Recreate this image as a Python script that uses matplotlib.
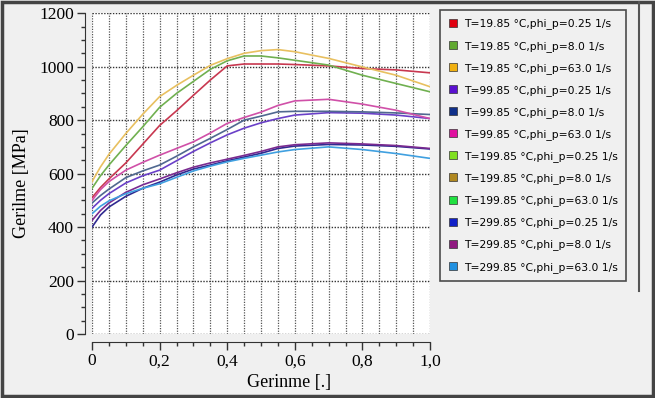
import numpy as np
import matplotlib.pyplot as plt
from matplotlib.lines import Line2D
from matplotlib.patches import Rectangle
from matplotlib.ticker import MultipleLocator

# strain points (Gerinme)
x = [0, 0.025, 0.05, 0.1, 0.15, 0.2, 0.25, 0.3, 0.35, 0.4, 0.45, 0.5, 0.55, 0.6, 0.7, 0.8, 0.9, 1.0]

# stress curves [MPa]
t19_025 = [510, 548, 580, 640, 710, 780, 835, 893, 950, 1003, 1010, 1010, 1010, 1008, 1003, 993, 988, 977]
t19_8 = [545, 592, 632, 705, 775, 848, 900, 945, 990, 1022, 1040, 1040, 1033, 1024, 1006, 968, 937, 906]
t19_63 = [570, 625, 672, 750, 822, 888, 930, 968, 1005, 1030, 1050, 1060, 1064, 1056, 1031, 999, 968, 925]
t99_025 = [470, 500, 525, 565, 592, 613, 648, 683, 715, 745, 770, 790, 806, 819, 828, 826, 819, 806]
t99_8 = [490, 518, 542, 585, 610, 632, 665, 700, 732, 765, 800, 815, 831, 833, 833, 831, 827, 821]
t99_63 = [500, 540, 570, 613, 642, 669, 694, 719, 752, 788, 810, 830, 855, 872, 878, 860, 837, 806]
t299_025 = [400, 445, 475, 515, 545, 568, 595, 617, 632, 648, 662, 676, 694, 703, 709, 707, 702, 692]
t299_8 = [425, 462, 490, 530, 558, 580, 603, 624, 640, 654, 668, 683, 700, 708, 715, 711, 705, 694]
t299_63 = [450, 478, 498, 525, 545, 562, 586, 610, 628, 644, 657, 669, 681, 690, 700, 690, 675, 657]

legend_labels = [
    'T=19.85 °C,phi_p=0.25 1/s', 'T=19.85 °C,phi_p=8.0 1/s', 'T=19.85 °C,phi_p=63.0 1/s',
    'T=99.85 °C,phi_p=0.25 1/s', 'T=99.85 °C,phi_p=8.0 1/s', 'T=99.85 °C,phi_p=63.0 1/s',
    'T=199.85 °C,phi_p=0.25 1/s', 'T=199.85 °C,phi_p=8.0 1/s', 'T=199.85 °C,phi_p=63.0 1/s',
    'T=299.85 °C,phi_p=0.25 1/s', 'T=299.85 °C,phi_p=8.0 1/s', 'T=299.85 °C,phi_p=63.0 1/s',
]
legend_colors = ['#e00010', '#60a830', '#f0b010', '#5a10d0', '#10308a', '#e010a0',
                 '#80e020', '#b08820', '#20e040', '#1020c8', '#901880', '#2090e0']

curves = [t19_025, t19_8, t19_63, t99_025, t99_8, t99_63, t299_025, t299_8, t299_63]
curve_colors = ['#c83850', '#70b050', '#e8c060', '#6a40c8', '#506890', '#d050a8',
                '#302a90', '#7a2a90', '#40a0e0']

xtick_vals = [0, 0.2, 0.4, 0.6, 0.8, 1.0]
xtick_labels = ['0', '0,2', '0,4', '0,6', '0,8', '1,0']
ytick_vals = [0, 200, 400, 600, 800, 1000, 1200]

fig = plt.figure(figsize=(6.55, 3.98), dpi=100)
fig.patch.set_facecolor('#f0f0f0')
ax = fig.add_axes([0.1405, 0.1608, 0.516, 0.806])
ax.set_facecolor('white')

for c, col in zip(curves, curve_colors):
    ax.plot(x, c, color=col, lw=1.2)

ax.set_xlim(0, 1.0)
ax.set_ylim(0, 1200)

# dotted grid
for gx in np.arange(0, 1.0001, 0.05):
    ax.axvline(gx, color='#555555', lw=0.9, ls=(0, (1, 1.1)), zorder=0)
for gy in ytick_vals:
    ax.axhline(gy, color='#333333', lw=1.0, ls=(0, (1, 1.1)), zorder=0)

for s in ['top', 'right']:
    ax.spines[s].set_visible(False)
ax.spines['left'].set_position(('outward', 5))
ax.spines['bottom'].set_position(('outward', 6))
ax.spines['left'].set_color('#333333')
ax.spines['bottom'].set_color('#333333')

ax.set_xticks(xtick_vals)
ax.set_xticklabels(xtick_labels)
ax.set_yticks(ytick_vals)
ax.xaxis.set_minor_locator(MultipleLocator(0.05))
ax.yaxis.set_minor_locator(MultipleLocator(50))
ax.tick_params(axis='both', which='major', length=6, width=1, color='#333333',
               labelsize=12.5, pad=2)
ax.tick_params(axis='both', which='minor', length=3, width=1, color='#333333')
for lab in ax.get_xticklabels() + ax.get_yticklabels():
    lab.set_fontfamily('Liberation Serif')

ax.set_xlabel('Gerinme [.]', fontsize=13, family='Liberation Serif')
ax.set_ylabel('Gerilme [MPa]', fontsize=13, family='Liberation Serif')
ax.xaxis.set_label_coords(0.583, -0.125)
ax.yaxis.set_label_coords(-0.185, 0.47)

handles = [Line2D([], [], ls='none', marker='s', markersize=6, markerfacecolor=c,
                  markeredgecolor='#333333', markeredgewidth=0.5) for c in legend_colors]
leg = fig.legend(handles, legend_labels, loc='upper left', bbox_to_anchor=(0.672, 0.975),
                 fontsize=7.75, frameon=True, fancybox=False, edgecolor='#222222',
                 facecolor='#f0f0f0', labelspacing=1.04, handlelength=0.8,
                 handletextpad=0.6, borderpad=0.8, borderaxespad=0)
leg.get_frame().set_linewidth(1.2)

# outer frame and right panel line
fig.add_artist(Rectangle((0.003, 0.004), 0.994, 0.992, transform=fig.transFigure,
                         fill=False, edgecolor='#444444', lw=2.5))
fig.add_artist(Line2D([0.975, 0.975], [0.27, 0.996], transform=fig.transFigure,
                      color='#555555', lw=1.5))

fig.savefig('out.png', dpi=100, facecolor=fig.get_facecolor())
